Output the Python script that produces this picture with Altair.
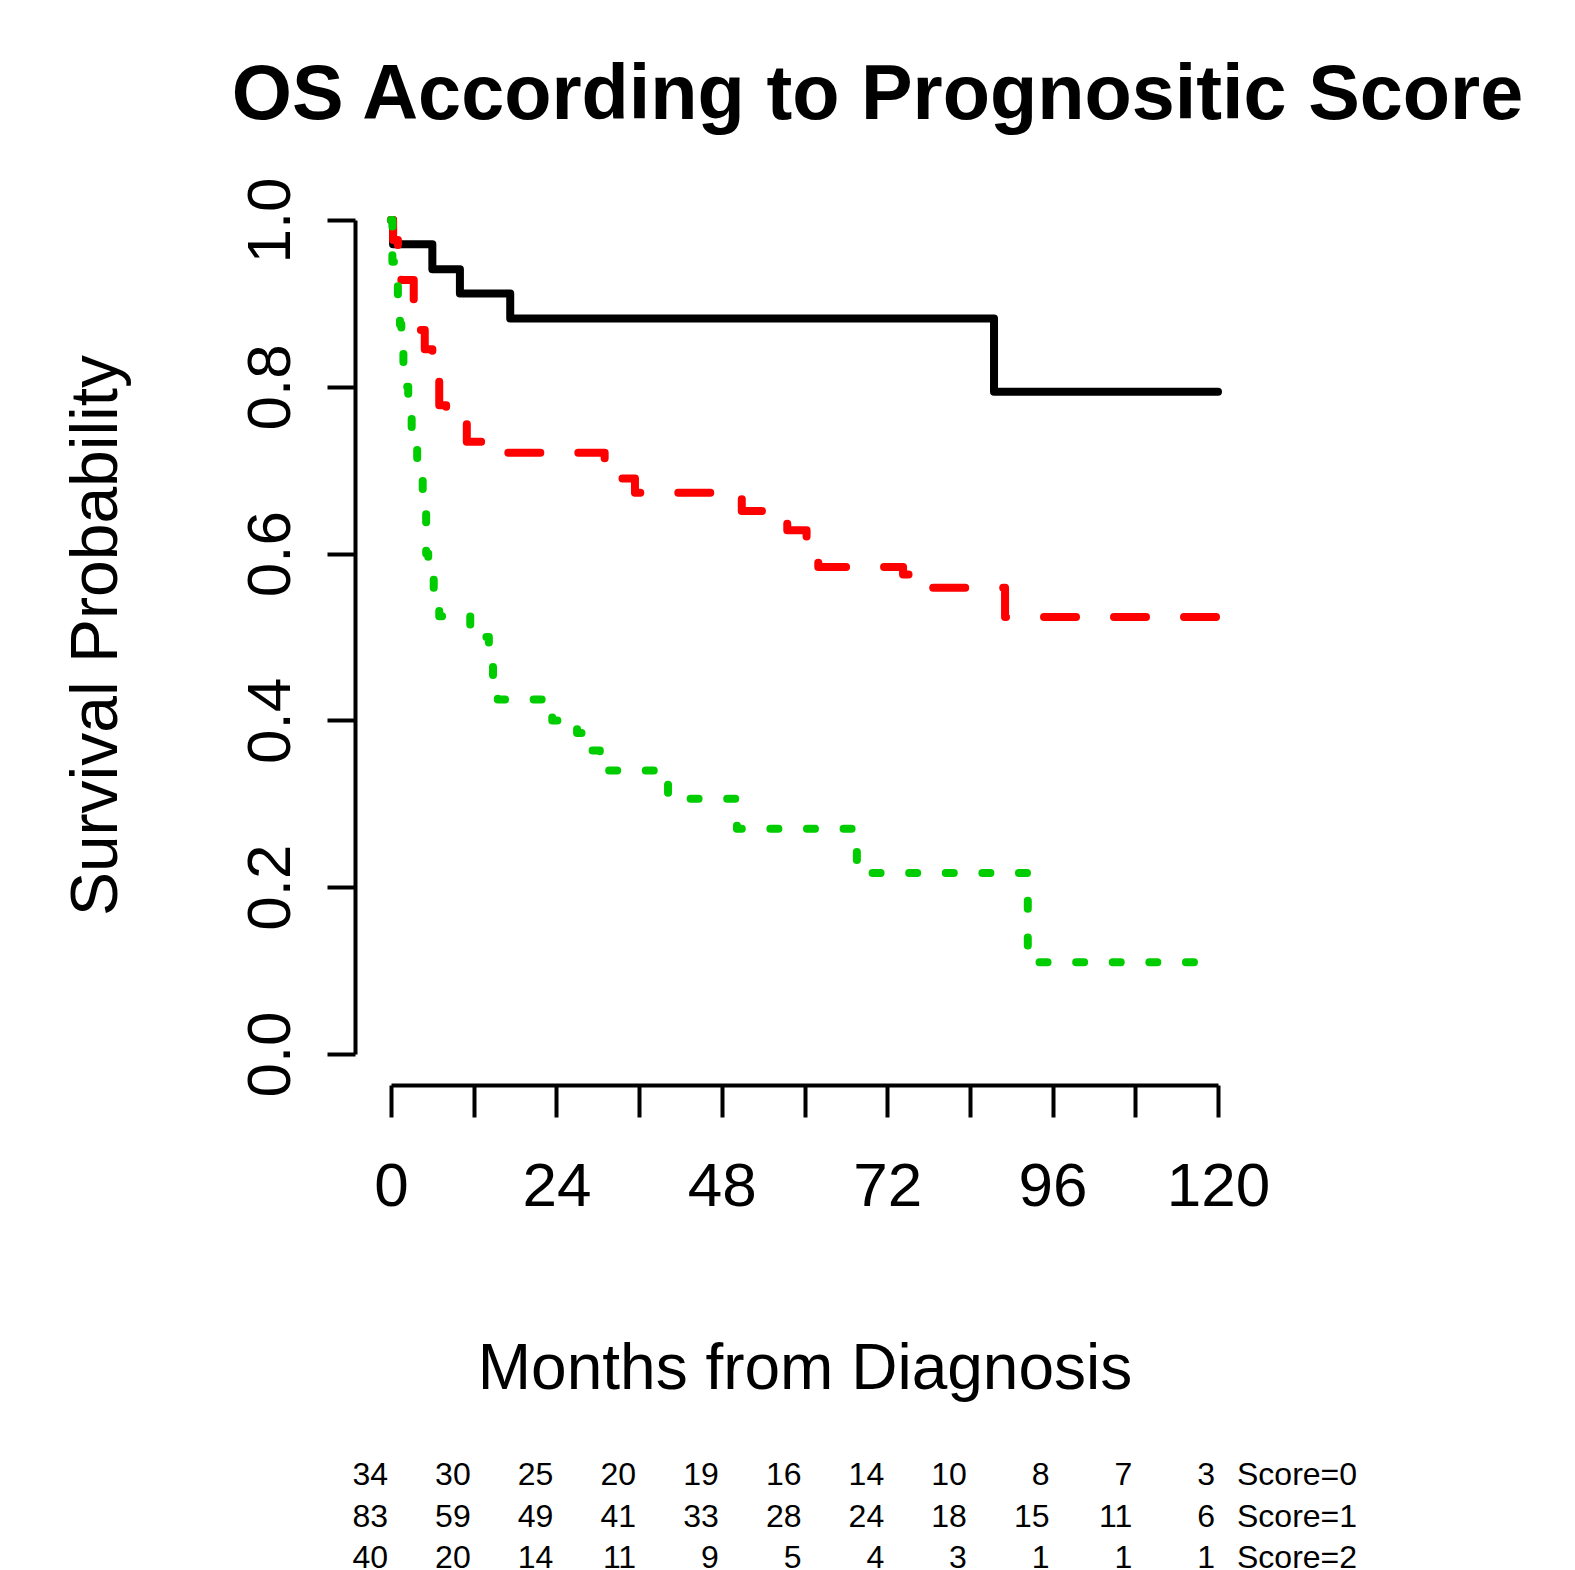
import altair as alt
import pandas as pd

# ---- data ----
group_names = ["Score=0", "Score=1", "Score=2"]
line_colors = ["#000000", "#FF0000", "#00CD00"]

times_score0 = [0, 0.3, 6.0, 10.0, 17.3, 87.5, 120]
surv_score0 = [1.0, 0.971, 0.941, 0.912, 0.882, 0.794, 0.794]

times_score1 = [0, 0.3, 1.0, 1.5, 3.3, 4.9, 6.0, 7.0, 8.0, 8.9, 11.0, 16.2,
                31.0, 35.4, 50.9, 57.5, 60.3, 62.0, 74.3, 75.7, 89.1, 120]
surv_score1 = [1.0, 0.976, 0.960, 0.928, 0.868, 0.845, 0.832, 0.778, 0.768, 0.760, 0.734, 0.721,
               0.690, 0.673, 0.651, 0.628, 0.613, 0.584, 0.575, 0.559, 0.524, 0.524]

times_score2 = [0, 0.2, 0.5, 1.0, 1.3, 1.5, 1.8, 2.0, 2.5, 3.0, 3.5, 3.8, 4.6, 5.1, 5.4, 6.2,
                7.0, 11.5, 14.2, 14.8, 15.5, 23.4, 27.0, 28.9, 30.3, 40.2, 50.2, 67.6, 92.4, 120]
surv_score2 = [1.0, 0.95, 0.925, 0.90, 0.875, 0.85, 0.825, 0.80, 0.775, 0.75, 0.725, 0.70, 0.675, 0.60, 0.575, 0.55,
               0.525, 0.50, 0.475, 0.45, 0.425, 0.40, 0.385, 0.364, 0.34, 0.306, 0.27, 0.217, 0.11, 0.11]

x_ticks = [0, 12, 24, 36, 48, 60, 72, 84, 96, 108, 120]
y_ticks = [0.0, 0.2, 0.4, 0.6, 0.8, 1.0]

risk_times = [0, 12, 24, 36, 48, 60, 72, 84, 96, 108, 120]
risk_score0 = [34, 30, 25, 20, 19, 16, 14, 10, 8, 7, 3]
risk_score1 = [83, 59, 49, 41, 33, 28, 24, 18, 15, 11, 6]
risk_score2 = [40, 20, 14, 11, 9, 5, 4, 3, 1, 1, 1]

FONT = "Liberation Sans"

# ---- frames ----
def km_frame(times, surv, name):
    return pd.DataFrame({"time": times, "surv": surv, "group": name})

df0 = km_frame(times_score0, surv_score0, group_names[0])
df1 = km_frame(times_score1, surv_score1, group_names[1])
df2 = km_frame(times_score2, surv_score2, group_names[2])

risk_df = pd.DataFrame({
    "time": risk_times * 3,
    "n": risk_score0 + risk_score1 + risk_score2,
    "group": [group_names[0]] * len(risk_times)
    + [group_names[1]] * len(risk_times)
    + [group_names[2]] * len(risk_times),
})
label_df = pd.DataFrame({"time": [risk_times[-1]] * 3, "group": group_names})

# ---- axes / scales ----
x_scale = alt.Scale(domain=[x_ticks[0], x_ticks[-1]], nice=False, zero=False)
y_scale = alt.Scale(domain=[y_ticks[0], y_ticks[-1]], nice=False, zero=False)

x_axis = alt.Axis(
    values=x_ticks,
    labelExpr="datum.value % 24 === 0 ? datum.label : ''",
    format="d",
    grid=False,
    domainColor="black", domainWidth=4,
    tickColor="black", tickWidth=4, tickSize=32,
    labelFont=FONT, labelFontSize=62, labelColor="black",
    labelBaseline="alphabetic", labelPadding=88,
    labelFlush=False, labelOverlap=False, labelBound=False,
    offset=31,
    title="Months from Diagnosis",
    titleFont=FONT, titleFontSize=64, titleFontWeight="normal", titleColor="black",
    titleBaseline="alphabetic", titleY=303,
)

y_axis = alt.Axis(
    values=y_ticks,
    format=".1f",
    grid=False,
    domainColor="black", domainWidth=4,
    tickColor="black", tickWidth=4, tickSize=28,
    labelFont=FONT, labelFontSize=62, labelColor="black",
    labelAngle=270, labelAlign="center", labelBaseline="alphabetic", labelPadding=38,
    labelFlush=False, labelOverlap=False, labelBound=False,
    offset=36,
    title="Survival Probability",
    titleFont=FONT, titleFontSize=66, titleFontWeight="normal", titleColor="black",
    titleAngle=270, titleAlign="center", titleBaseline="alphabetic",
    titleX=-239, titleY=415,
)

x_enc = alt.X("time:Q", scale=x_scale, axis=x_axis)
y_enc = alt.Y("surv:Q", scale=y_scale, axis=y_axis)

line_common = dict(interpolate="step-after", strokeWidth=8, strokeCap="round", strokeJoin="round")

line0 = alt.Chart(df0).mark_line(color=line_colors[0], **line_common).encode(x=x_enc, y=y_enc)
line1 = alt.Chart(df1).mark_line(color=line_colors[1], strokeDash=[32, 38], **line_common).encode(x=x_enc, y=y_enc)
line2 = alt.Chart(df2).mark_line(color=line_colors[2], strokeDash=[8, 28.6], **line_common).encode(x=x_enc, y=y_enc)

lines = alt.layer(line0, line1, line2)

row_scale = alt.Scale(domain=group_names, range=[1255, 1338], padding=0)

risk_text = alt.Chart(risk_df).mark_text(
    align="right", baseline="middle", dx=-3, fontSize=32, font=FONT, color="black"
).encode(
    x=alt.X("time:Q", scale=x_scale, axis=x_axis),
    y=alt.Y("group:N", scale=row_scale, axis=None),
    text="n:Q",
)

score_text = alt.Chart(label_df).mark_text(
    align="left", baseline="middle", dx=19, fontSize=32, font=FONT, color="black"
).encode(
    x=alt.X("time:Q", scale=x_scale, axis=x_axis),
    y=alt.Y("group:N", scale=row_scale, axis=None),
    text="group:N",
)

chart = (
    alt.layer(lines, risk_text, score_text)
    .resolve_scale(y="independent")
    .properties(
        width=827,
        height=834,
        title=alt.TitleParams(
            text="OS According to Prognositic Score",
            font=FONT, fontSize=77.4, fontWeight="bold", color="black",
            anchor="middle", frame="group", dx=73, offset=-19, baseline="alphabetic",
        ),
        autosize=alt.AutoSizeParams(type="none"),
        padding={"left": 383, "top": 212, "right": 330, "bottom": 524},
    )
    .configure(font=FONT, background="white")
    .configure_view(strokeWidth=0)
)

chart.save("out.html", embed_options={"renderer": "svg", "actions": False})
